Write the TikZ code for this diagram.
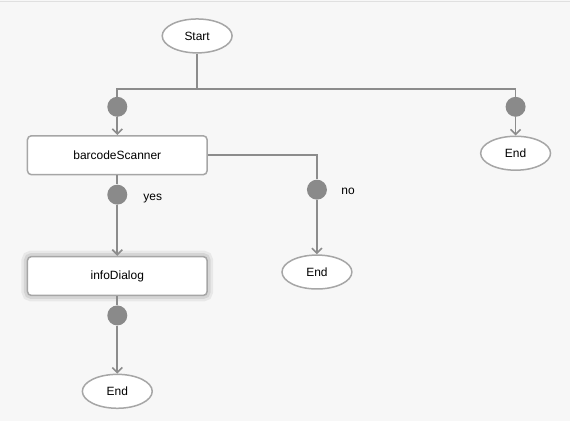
\documentclass[tikz,border=0pt]{standalone}
\usepackage{fontspec}
\setmainfont{Liberation Sans}
\usetikzlibrary{shapes.geometric, arrows.meta}
\definecolor{flowLine}{HTML}{8C8C8C}
\definecolor{flowDot}{HTML}{8A8A8A}
\definecolor{flowBorder}{HTML}{A6A6A6}
\definecolor{flowBack}{HTML}{F7F7F7}
\tikzset{font=\fontsize{12}{14}\selectfont}
\tikzstyle{terminal} = [ellipse, minimum width=70pt, minimum height=34pt,%
text centered, draw=flowBorder, line width=1.5pt, fill=white]
\tikzstyle{action} = [rectangle, rounded corners=4pt, minimum width=180pt,%
minimum height=39pt, text centered, draw=flowBorder, line width=1.5pt, fill=white]
\tikzstyle{glow} = [preaction={draw=black, opacity=0.06, line width=12pt},%
preaction={draw=black, opacity=0.08, line width=7pt}]
\tikzstyle{dot} = [circle, minimum size=20pt, inner sep=0pt, fill=flowDot]
\tikzstyle{arrow} = [line width=1.6pt, draw=flowLine, -{Straight Barb[length=5pt,width=10pt]}]
\tikzstyle{line} = [line width=1.6pt, draw=flowLine]

\begin{document}
\begin{tikzpicture}[x=1pt, y=-1pt]
    \fill [flowBack] (0,0) rectangle (570,422);
    \draw [black!12, line width=1pt] (0,1.5) -- (570,1.5);
    \useasboundingbox (0,0) rectangle (570,422);

    \node (start) [terminal] at (197,36) {Start};
    \coordinate (split) at (197,89);

    \node (dotScan) [dot] at (117,107) {};
    \node (scanner) [action] at (117,155.5) {barcodeScanner};
    \node (dotYes) [dot] at (117,195) {};
    \node (info) [action, glow] at (117,276.5) {infoDialog};
    \node (dotInfo) [dot] at (117,316) {};
    \node (endInfo) [terminal] at (117,392) {End};

    \node (dotNo) [dot] at (317,190) {};
    \node (endNo) [terminal] at (317,272.5) {End};

    \node (dotSkip) [dot] at (516,107) {};
    \node (endSkip) [terminal] at (516,153.5) {End};

    \draw [line] (start) -- (split);
    \draw [line] (dotScan.north) |- (split) -| (dotSkip.north);
    \draw [arrow] (dotScan) -- (scanner);
    \draw [arrow] (dotSkip) -- (endSkip);

    \draw [line] (scanner) -- (dotYes) node[anchor=west, xshift=22pt, yshift=-3.5pt] {yes};
    \draw [arrow] (dotYes) -- (info);
    \draw [line] (info) -- (dotInfo);
    \draw [arrow] (dotInfo) -- (endInfo);

    \draw [line] (scanner.east) -| (dotNo.north);
    \path (dotNo) node[anchor=west, xshift=21pt, yshift=-1.5pt] {no};
    \draw [arrow] (dotNo) -- (endNo);
  \end{tikzpicture}
\end{document}
